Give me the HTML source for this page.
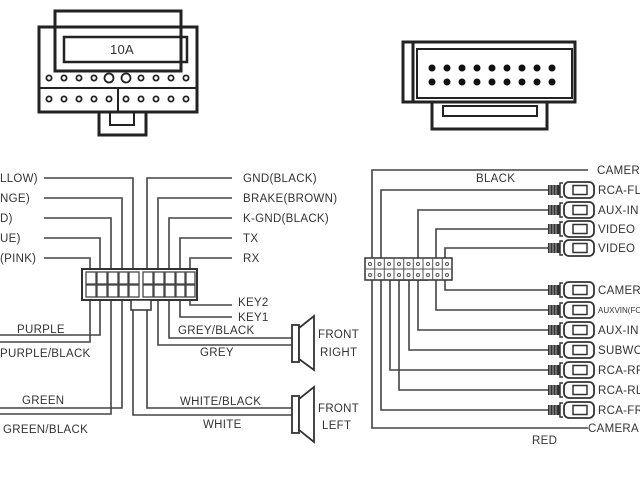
<!DOCTYPE html>
<html><head><meta charset="utf-8"><style>
html,body{margin:0;padding:0;background:#fff;width:640px;height:480px;overflow:hidden}
text{font-family:"Liberation Sans",Arial,sans-serif;font-size:11.5px;fill:#333;letter-spacing:0.3px}
</style></head><body>
<svg width="640" height="480" viewBox="0 0 640 480" xmlns="http://www.w3.org/2000/svg">
<g fill="none" stroke="#222" stroke-width="3">
<!-- top-left connector -->
<rect x="55" y="11" width="126" height="60"/>
<rect x="39" y="27" width="158" height="85"/>
<rect x="64" y="37" width="123" height="25" stroke-width="2.5"/>
<line x1="39" y1="88" x2="197" y2="88" stroke-width="2"/>
<line x1="118" y1="88" x2="118" y2="112" stroke-width="2"/>
<rect x="99" y="112" width="47" height="23"/>
<rect x="110" y="112" width="24" height="13" stroke-width="2"/>
</g>
<text x="110" y="54" style="font-size:13px">10A</text>
<g fill="none" stroke="#222" stroke-width="1.8">
<circle cx="49" cy="78" r="2.6"/><circle cx="64" cy="78" r="2.6"/><circle cx="79" cy="78" r="2.6"/><circle cx="94" cy="78" r="2.6"/><circle cx="109" cy="78" r="4.5"/><circle cx="126" cy="78" r="4.5"/><circle cx="141" cy="78" r="2.6"/><circle cx="156" cy="78" r="2.6"/><circle cx="171" cy="78" r="2.6"/><circle cx="186" cy="78" r="2.6"/>
<circle cx="49" cy="99" r="2.6"/><circle cx="64" cy="99" r="2.6"/><circle cx="79" cy="99" r="2.6"/><circle cx="94" cy="99" r="2.6"/><circle cx="109" cy="99" r="2.6"/><circle cx="126" cy="99" r="2.6"/><circle cx="141" cy="99" r="2.6"/><circle cx="156" cy="99" r="2.6"/><circle cx="171" cy="99" r="2.6"/><circle cx="186" cy="99" r="2.6"/>
</g>
<!-- top-right connector -->
<g fill="none" stroke="#222" stroke-width="3">
<rect x="403" y="42" width="172" height="60"/>
<line x1="413" y1="42" x2="413" y2="102"/>
<rect x="417" y="49" width="155" height="49" stroke-width="2"/>
<rect x="432" y="102" width="115" height="27"/>
<rect x="443" y="106" width="94" height="10" stroke-width="2"/>
</g>
<g fill="#111">
<circle cx="432" cy="68" r="3.5"/><circle cx="447" cy="68" r="3.5"/><circle cx="462" cy="68" r="3.5"/><circle cx="477" cy="68" r="3.5"/><circle cx="492" cy="68" r="3.5"/><circle cx="507" cy="68" r="3.5"/><circle cx="522" cy="68" r="3.5"/><circle cx="537" cy="68" r="3.5"/><circle cx="552" cy="68" r="3.5"/>
<circle cx="432" cy="82" r="3.5"/><circle cx="447" cy="82" r="3.5"/><circle cx="462" cy="82" r="3.5"/><circle cx="477" cy="82" r="3.5"/><circle cx="492" cy="82" r="3.5"/><circle cx="507" cy="82" r="3.5"/><circle cx="522" cy="82" r="3.5"/><circle cx="537" cy="82" r="3.5"/><circle cx="552" cy="82" r="3.5"/>
</g>
<!-- left wiring -->
<g fill="none" stroke="#444" stroke-width="1.6">
<polyline points="44,178 133,178 133,415 292,415"/>
<polyline points="44,198 122,198 122,408 0,408"/>
<polyline points="44,218 111,218 111,414 0,414"/>
<polyline points="44,238 100,238 100,335 0,335"/>
<polyline points="44,258 90,258 90,342 0,342"/>
<polyline points="232,178 147,178 147,408 292,408"/>
<polyline points="232,198 158,198 158,345 292,345"/>
<polyline points="232,218 169,218 169,338 292,338"/>
<polyline points="232,238 180,238 180,317 232,317"/>
<polyline points="232,258 190,258 190,305 232,305"/>
</g>
<g fill="#fff" stroke="#333" stroke-width="2">
<rect x="82" y="269" width="115" height="31"/>
<rect x="131" y="300" width="20" height="10" stroke-width="1.5"/>
</g>
<g fill="#fff" stroke="#444" stroke-width="1.3">
<rect x="86" y="272" width="10" height="12"/><rect x="97" y="272" width="10" height="12"/><rect x="108" y="272" width="10" height="12"/><rect x="119" y="272" width="9" height="12"/><rect x="129" y="272" width="10" height="12"/>
<rect x="143" y="272" width="10" height="12"/><rect x="154" y="272" width="10" height="12"/><rect x="165" y="272" width="10" height="12"/><rect x="176" y="272" width="9" height="12"/><rect x="186" y="272" width="9" height="12"/>
<rect x="86" y="285" width="10" height="12"/><rect x="97" y="285" width="10" height="12"/><rect x="108" y="285" width="10" height="12"/><rect x="119" y="285" width="9" height="12"/><rect x="129" y="285" width="10" height="12"/>
<rect x="143" y="285" width="10" height="12"/><rect x="154" y="285" width="10" height="12"/><rect x="165" y="285" width="10" height="12"/><rect x="176" y="285" width="9" height="12"/><rect x="186" y="285" width="9" height="12"/>
</g>
<!-- speakers -->
<g fill="#fff" stroke="#333" stroke-width="1.8">
<rect x="292" y="325" width="7" height="37"/>
<polygon points="299,328 314,316 314,370 299,359"/>
<rect x="292" y="396" width="7" height="37"/>
<polygon points="299,399 314,387 314,442 299,430"/>
</g>
<text x="0" y="182">LLOW)</text>
<text x="0" y="202">NGE)</text>
<text x="0" y="222">D)</text>
<text x="0" y="242">UE)</text>
<text x="0" y="262">(PINK)</text>
<text x="243" y="182">GND(BLACK)</text>
<text x="243" y="202">BRAKE(BROWN)</text>
<text x="243" y="222">K-GND(BLACK)</text>
<text x="243" y="242">TX</text>
<text x="243" y="262">RX</text>
<text x="238" y="306">KEY2</text>
<text x="238" y="321">KEY1</text>
<text x="178" y="334">GREY/BLACK</text>
<text x="200" y="356">GREY</text>
<text x="17" y="333">PURPLE</text>
<text x="0" y="357">PURPLE/BLACK</text>
<text x="22" y="404">GREEN</text>
<text x="3" y="433">GREEN/BLACK</text>
<text x="180" y="405">WHITE/BLACK</text>
<text x="203" y="428">WHITE</text>
<text x="318" y="338">FRONT</text>
<text x="320" y="356">RIGHT</text>
<text x="318" y="412">FRONT</text>
<text x="322" y="429">LEFT</text>
<!-- right wiring -->
<g fill="none" stroke="#444" stroke-width="1.6">
<polyline points="588,170 372,170 372,428 588,428"/>
<polyline points="550,190 381,190 381,410 550,410"/>
<polyline points="550,210 418,210 418,330 550,330"/>
<polyline points="550,229 436,229 436,310 550,310"/>
<polyline points="550,248 445,248 445,290 550,290"/>
<polyline points="399,280 399,390 550,390"/>
<polyline points="390,280 390,370 550,370"/>
<polyline points="409,280 409,350 550,350"/>
<polyline points="390,280 428,280"/>
</g>
<g fill="#fff" stroke="#333" stroke-width="1.5">
<rect x="365" y="258" width="87" height="22"/>
</g>
<g fill="none" stroke="#555" stroke-width="1">
<path d="M374.7,258v22M384.3,258v22M394,258v22M403.7,258v22M413.3,258v22M423,258v22M432.7,258v22M442.3,258v22M365,269h87"/>
<circle cx="370" cy="264" r="1.5"/><circle cx="379.5" cy="264" r="1.5"/><circle cx="389" cy="264" r="1.5"/><circle cx="399" cy="264" r="1.5"/><circle cx="408.5" cy="264" r="1.5"/><circle cx="418" cy="264" r="1.5"/><circle cx="428" cy="264" r="1.5"/><circle cx="437.5" cy="264" r="1.5"/><circle cx="447" cy="264" r="1.5"/>
<circle cx="370" cy="275" r="1.5"/><circle cx="379.5" cy="275" r="1.5"/><circle cx="389" cy="275" r="1.5"/><circle cx="399" cy="275" r="1.5"/><circle cx="408.5" cy="275" r="1.5"/><circle cx="418" cy="275" r="1.5"/><circle cx="428" cy="275" r="1.5"/><circle cx="437.5" cy="275" r="1.5"/><circle cx="447" cy="275" r="1.5"/>
</g>
<defs>
<g id="rca">
<rect x="548" y="-5" width="12" height="10" fill="#333"/>
<path d="M550,-5v10M553,-5v10M556,-5v10" stroke="#aaa" stroke-width="1"/>
<path d="M563,-7h-3v14h3" fill="none" stroke="#333" stroke-width="1.5"/>
<rect x="564" y="-8" width="30" height="16" rx="5" fill="#fff" stroke="#333" stroke-width="1.8"/>
<rect x="573" y="-4.5" width="14" height="9" fill="#fff" stroke="#333" stroke-width="1.5"/>
</g>
</defs>
<use href="#rca" y="190"/><use href="#rca" y="210"/><use href="#rca" y="229"/><use href="#rca" y="248"/>
<use href="#rca" y="290"/><use href="#rca" y="310"/><use href="#rca" y="330"/><use href="#rca" y="350"/>
<use href="#rca" y="370"/><use href="#rca" y="390"/><use href="#rca" y="410"/>
<text x="597" y="174">CAMERA</text>
<text x="476" y="182">BLACK</text>
<text x="598" y="194">RCA-FL</text>
<text x="598" y="214">AUX-IN</text>
<text x="598" y="233">VIDEO</text>
<text x="598" y="252">VIDEO</text>
<text x="598" y="294">CAMERA</text>
<text x="598" y="313" style="font-size:8px;letter-spacing:0">AUXVIN(FO</text>
<text x="598" y="334">AUX-IN</text>
<text x="598" y="354">SUBWOOFER</text>
<text x="598" y="374">RCA-RR</text>
<text x="598" y="394">RCA-RL</text>
<text x="598" y="414">RCA-FR</text>
<text x="588" y="432">CAMERA</text>
<text x="532" y="444">RED</text>
</svg>
</body></html>
